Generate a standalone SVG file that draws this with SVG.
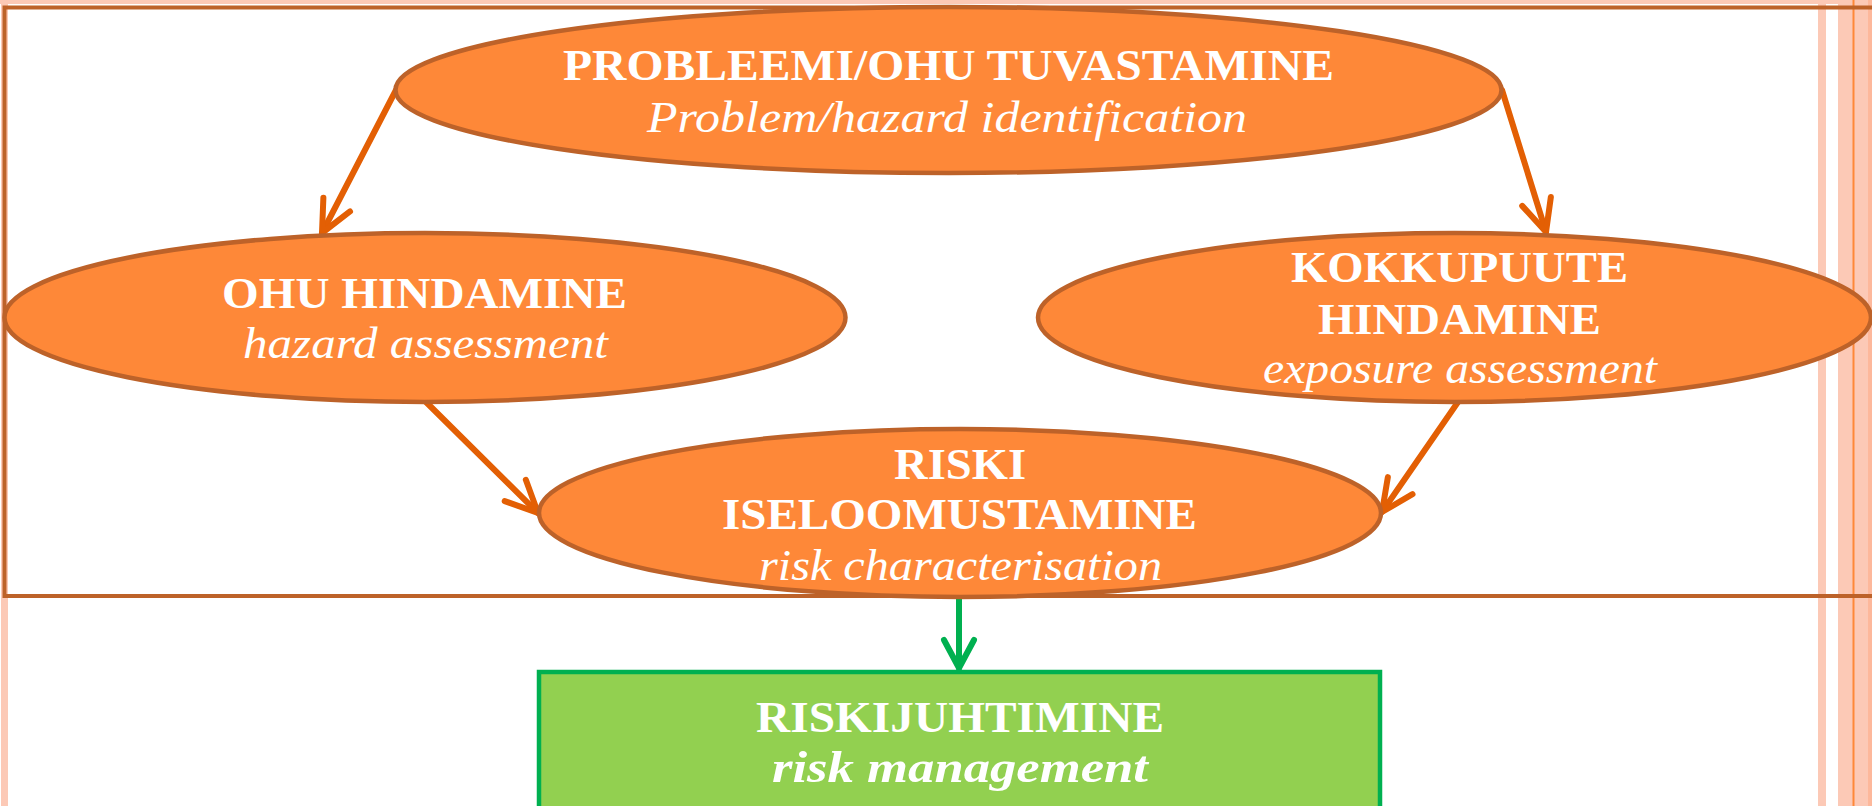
<svg xmlns="http://www.w3.org/2000/svg" width="1872" height="806" viewBox="0 0 1872 806">
<style>
.ell{fill:#FE8838;stroke:#BD6229;stroke-width:4.5}
.t{font-family:"Liberation Serif","Times New Roman",serif;font-size:44px;fill:#FFFFFF;text-anchor:middle}
.b{font-weight:bold}
.i{font-style:italic}
.con{stroke:#E35F04;stroke-width:6;fill:none;stroke-linecap:round}
.gcon{stroke:#00B050;stroke-width:6;fill:none;stroke-linecap:round}
.pale{fill:#FCC9B6}
</style>
<defs>
<marker id="ah" markerUnits="userSpaceOnUse" markerWidth="60" markerHeight="60" viewBox="-40 -30 50 60" refX="0" refY="0" orient="auto">
<path d="M-32,-15 L0,0 L-32,15" fill="none" stroke="#E35F04" stroke-width="6" stroke-linecap="round" stroke-linejoin="round"/>
</marker>
<marker id="gah" markerUnits="userSpaceOnUse" markerWidth="60" markerHeight="60" viewBox="-40 -30 50 60" refX="0" refY="0" orient="auto">
<path d="M-28,-15 L0,0 L-28,15" fill="none" stroke="#00B050" stroke-width="6" stroke-linecap="round" stroke-linejoin="round"/>
</marker>
</defs>
<rect width="1872" height="806" fill="#FFFFFF"/>
<g id="background">
<rect x="0" y="0" width="1872" height="4" class="pale"/>
<rect x="1" y="0" width="7" height="806" class="pale"/>
<rect x="1818" y="0" width="8" height="806" class="pale"/>
<rect x="1838" y="0" width="34" height="806" class="pale"/>
<rect x="1868" y="0" width="4" height="806" fill="#FDB89B"/>
<rect x="1852.5" y="0" width="2" height="806" fill="#FE8838"/>
<rect x="4.5" y="7.5" width="1900" height="588.5" fill="none" stroke="#BD6229" stroke-width="4"/>
</g>
<g id="connectors">
<line x1="396" y1="90" x2="322" y2="233" class="con" marker-end="url(#ah)"/>
<line x1="1502" y1="90" x2="1546" y2="232" class="con" marker-end="url(#ah)"/>
<line x1="426" y1="402" x2="538" y2="513" class="con" marker-end="url(#ah)"/>
<line x1="1458" y1="402" x2="1382" y2="512" class="con" marker-end="url(#ah)"/>
<line x1="959" y1="598" x2="959" y2="668" class="gcon" marker-end="url(#gah)"/>
</g>
<g id="node-identification">
<ellipse cx="948.5" cy="90" rx="553" ry="83" class="ell"/>
<text x="948.5" y="80" class="t b" textLength="771" lengthAdjust="spacingAndGlyphs">PROBLEEMI/OHU TUVASTAMINE</text>
<text x="947" y="132" class="t i" textLength="600" lengthAdjust="spacingAndGlyphs">Problem/hazard identification</text>
</g>
<g id="node-hazard">
<ellipse cx="425" cy="317.5" rx="420.5" ry="84.5" class="ell"/>
<text x="424.5" y="308" class="t b" textLength="405" lengthAdjust="spacingAndGlyphs">OHU HINDAMINE</text>
<text x="425.5" y="358" class="t i" textLength="365" lengthAdjust="spacingAndGlyphs">hazard assessment</text>
</g>
<g id="node-exposure">
<ellipse cx="1454.5" cy="317.5" rx="416.5" ry="84.5" class="ell"/>
<text x="1459.5" y="282" class="t b" textLength="337" lengthAdjust="spacingAndGlyphs">KOKKUPUUTE</text>
<text x="1459.5" y="334" class="t b" textLength="283" lengthAdjust="spacingAndGlyphs">HINDAMINE</text>
<text x="1460" y="383" class="t i" textLength="394" lengthAdjust="spacingAndGlyphs">exposure assessment</text>
</g>
<g id="node-risk-characterisation">
<ellipse cx="960" cy="513" rx="421" ry="84" class="ell"/>
<text x="960" y="479" class="t b" textLength="132" lengthAdjust="spacingAndGlyphs">RISKI</text>
<text x="959.5" y="529" class="t b" textLength="475" lengthAdjust="spacingAndGlyphs">ISELOOMUSTAMINE</text>
<text x="960.5" y="580" class="t i" textLength="403" lengthAdjust="spacingAndGlyphs">risk characterisation</text>
</g>
<g id="node-risk-management">
<rect x="539" y="672" width="841" height="200" fill="#92D050" stroke="#00B050" stroke-width="4.5"/>
<text x="960" y="732" class="t b" textLength="408" lengthAdjust="spacingAndGlyphs">RISKIJUHTIMINE</text>
<text x="960" y="782" class="t b i" textLength="376" lengthAdjust="spacingAndGlyphs">risk management</text>
</g>
</svg>
